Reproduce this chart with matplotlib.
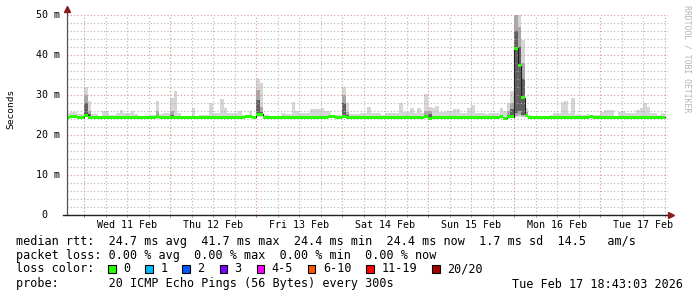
import numpy as np
import matplotlib
matplotlib.use("Agg")
import matplotlib.pyplot as plt
from matplotlib.patches import Rectangle

W, H = 697, 297
MONO = "DejaVu Sans Mono"

# one bin per hour, hour 0 = left edge of the graph (Tue 10 Feb ~19:15)
# first midnight (Wed 11 Feb 00:00) is at hour 4.75
first_midnight = 4.75
day_labels = ["Wed 11 Feb", "Thu 12 Feb", "Fri 13 Feb", "Sat 14 Feb",
              "Sun 15 Feb", "Mon 16 Feb", "Tue 17 Feb"]

# median rtt per hour (ms)
median_rtt = [
    24.4, 24.7, 24.7, 24.4, 24.4, 24.9, 24.4, 24.4, 24.4, 24.4, 24.4, 24.4,
    24.4, 24.4, 24.4, 24.4, 24.4, 24.4, 24.4, 24.4, 24.4, 24.4, 24.4, 24.4,
    24.4, 24.7, 24.4, 24.4, 24.4, 24.4, 24.4, 24.4, 24.4, 24.4, 24.4, 24.4,
    24.4, 24.4, 24.4, 24.4, 24.4, 24.4, 24.4, 24.4, 24.4, 24.4, 24.4, 24.4,
    24.4, 24.4, 24.7, 24.7, 24.4, 25.2, 25.2, 24.4, 24.4, 24.4, 24.4, 24.4,
    24.4, 24.4, 24.4, 24.4, 24.4, 24.4, 24.4, 24.4, 24.4, 24.4, 24.4, 24.4,
    24.4, 24.7, 24.7, 24.4, 24.4, 24.7, 24.4, 24.4, 24.4, 24.4, 24.4, 24.4,
    24.4, 24.4, 24.4, 24.4, 24.4, 24.4, 24.4, 24.4, 24.4, 24.4, 24.4, 24.4,
    24.4, 24.4, 24.4, 24.4, 24.6, 24.2, 24.4, 24.4, 24.4, 24.4, 24.4, 24.4,
    24.4, 24.4, 24.4, 24.4, 24.4, 24.4, 24.4, 24.4, 24.4, 24.4, 24.4, 24.4,
    24.4, 24.6, 24.2, 24.6, 24.6, 41.7, 37.3, 29.3, 24.8, 24.4, 24.4, 24.4,
    24.4, 24.4, 24.4, 24.4, 24.4, 24.4, 24.4, 24.4, 24.4, 24.4, 24.4, 24.4,
    24.4, 24.4, 24.7, 24.4, 24.4, 24.4, 24.4, 24.4, 24.4, 24.4, 24.4, 24.4,
    24.4, 24.4, 24.4, 24.4, 24.4, 24.4, 24.4, 24.4, 24.4, 24.4, 24.4,
]

# slowest of the 20 pings per hour (ms)
max_rtt = [
    25.4, 25.8, 25.8, 25.2, 25.2, 31.9, 28.6, 25.2, 25.2, 24.6, 26.0, 26.0,
    25.0, 25.0, 25.4, 26.2, 25.4, 25.4, 26.0, 25.3, 24.8, 24.8, 24.6, 25.0,
    25.0, 28.6, 25.2, 25.4, 25.4, 29.3, 31.1, 25.6, 24.6, 24.6, 24.6, 26.7,
    24.8, 25.0, 25.0, 25.0, 27.9, 25.4, 25.4, 29.1, 26.7, 25.4, 25.4, 25.4,
    26.1, 25.0, 25.0, 26.0, 24.6, 34.0, 33.1, 25.0, 25.0, 24.6, 24.6, 24.6,
    25.4, 25.2, 25.2, 28.3, 26.0, 25.4, 25.4, 25.4, 26.4, 26.4, 26.4, 26.8,
    26.1, 26.1, 25.0, 25.0, 25.0, 32.0, 28.1, 25.2, 25.2, 25.2, 25.6, 25.6,
    27.1, 25.4, 25.4, 25.4, 25.0, 25.4, 25.4, 25.4, 25.4, 27.9, 25.8, 25.8,
    26.8, 25.4, 26.8, 25.4, 30.2, 26.9, 26.7, 27.3, 25.8, 25.8, 26.0, 26.0,
    26.5, 26.5, 25.4, 25.4, 26.7, 27.5, 25.6, 25.6, 25.4, 25.2, 25.4, 25.4,
    25.4, 26.8, 26.0, 27.9, 31.1, 55.0, 55.0, 43.8, 26.7, 25.0, 24.6, 24.6,
    24.6, 24.6, 24.6, 25.0, 25.4, 25.4, 28.3, 28.5, 25.4, 29.2, 25.0, 25.0,
    25.0, 25.2, 25.0, 25.0, 25.0, 25.8, 26.3, 26.2, 26.2, 24.8, 25.8, 26.0,
    25.4, 25.4, 25.4, 26.2, 26.7, 27.9, 26.9, 25.4, 25.4, 25.0, 25.4,
]

# hours where the pings were really spread out (darker smoke)
spread_bins = [5, 6, 25, 29, 53, 54, 77, 78, 100, 101, 123, 124, 125, 126, 127, 128]
spread_min = [24.4, 24.4, 24.4, 24.4, 24.6, 24.6, 24.4, 24.4, 24.2, 24.0, 24.4, 24.4, 24.5, 24.6, 24.5, 24.5]
spread_p10 = [24.6, 24.4, 24.4, 24.4, 24.9, 24.9, 24.5, 24.4, 24.4, 24.1, 24.5, 24.5, 24.8, 25.0, 24.7, 24.6]
spread_p25 = [24.8, 24.4, 24.5, 24.4, 25.1, 25.1, 24.6, 24.4, 24.5, 24.2, 24.6, 24.6, 25.5, 26.0, 25.0, 24.7]
spread_p75 = [27.9, 25.2, 25.0, 25.0, 28.8, 25.8, 28.0, 25.0, 25.0, 25.2, 25.0, 26.5, 46.0, 42.0, 34.0, 25.2]
spread_p90 = [30.0, 26.0, 26.0, 26.0, 31.3, 27.0, 30.0, 25.8, 26.0, 26.0, 26.0, 28.0, 50.0, 47.0, 38.0, 25.8]

legend_rows = [
    "median rtt:  24.7 ms avg  41.7 ms max  24.4 ms min  24.4 ms now  1.7 ms sd  14.5   am/s",
    "packet loss: 0.00 % avg  0.00 % max  0.00 % min  0.00 % now",
    "loss color:",
    "probe:       20 ICMP Echo Pings (56 Bytes) every 300s",
]
loss_labels = ["0", "1", "2", "3", "4-5", "6-10", "11-19", "20/20"]
loss_colors = ["#26ff00", "#00b8ff", "#0059ff", "#7e00ff",
               "#ff00ff", "#ff5500", "#ff0000", "#a10000"]
stamp = "Tue Feb 17 18:43:03 2026"


def fx(px):
    return px / W


def fy(py):
    return 1 - py / H


med = np.array(median_rtt)
top = np.array(max_rtt)
lo, p10, p25, p75, p90 = (med.copy() for _ in range(5))
lo[spread_bins] = spread_min
p10[spread_bins] = spread_p10
p25[spread_bins] = spread_p25
p75[spread_bins] = spread_p75
p90[spread_bins] = spread_p90

n = len(med)
edges = np.arange(n + 1) - 0.25


def stepped(a):
    return np.append(a, a[-1])


fig = plt.figure(figsize=(W / 100, H / 100), dpi=100)
fig.patch.set_facecolor("white")
ax = fig.add_axes([fx(67), fy(215), 601 / W, 200 / H])
ax.set_xlim(0, 167.7)
ax.set_ylim(0, 50)
ax.axis("off")

# smoke
ax.fill_between(edges, stepped(lo), stepped(top), step="post", color="#d6d6d6", lw=0, zorder=1)
ax.fill_between(edges, stepped(p10), stepped(p90), step="post", color="#a8a8a8", lw=0, zorder=1.1)
ax.fill_between(edges, stepped(p25), stepped(p75), step="post", color="#606060", lw=0, zorder=1.2)

# grid
dotted = (0, (1, 2))
minor_col, major_col = "#b4b4b4", "#dc9090"
for v in range(2, 51, 2):
    major = v % 10 == 0
    ax.axhline(v, color=major_col if major else minor_col, ls=dotted, lw=0.8, zorder=2)
h = first_midnight - 18
while h < 167.7:
    if h > 0:
        major = abs((h - first_midnight) % 24) < 1e-6
        col = major_col if major else minor_col
        ax.axvline(h, color=col, ls=dotted, lw=0.8, zorder=2)
        ax.plot([h, h], [0, -0.6], color=col, lw=0.72, clip_on=False)
    h += 6

# median line with loss colour band
ax.step(edges, stepped(med), where="post", color="#202020", lw=0.8, zorder=3)
ax.fill_between(edges, stepped(med) - 0.33, stepped(med) + 0.33, step="post",
                color=loss_colors[0], lw=0, zorder=4)

# axes with arrows
ax.plot([0, 0], [0, 51], color="#505050", lw=0.9, clip_on=False, zorder=5)
ax.plot(0, 51.4, marker="^", ms=4, color="#8b1a1a", clip_on=False, zorder=6)
ax.plot([-1.0, 168.3], [0, 0], color="#202020", lw=1.0, clip_on=False, zorder=5)
ax.plot(168.6, 0, marker=">", ms=4, color="#8b1a1a", clip_on=False, zorder=6)

# tick labels
for v in range(0, 51, 10):
    lab = " 0" if v == 0 else "%d m" % v
    fig.text(fx(36), fy(215 - v * 4), lab, ha="left", va="center",
             fontsize=7.2, family=MONO)
for d, lab in enumerate(day_labels):
    ax.text(first_midnight + 12 + 24 * d, -2.5, lab, ha="center", va="center",
            fontsize=7.2, family=MONO, clip_on=False)

fig.text(fx(11), fy(109), "Seconds", rotation=90, ha="center", va="center",
         fontsize=6.8, family=MONO)
fig.text(fx(687), fy(5), "RRDTOOL / TOBI OETIKER", rotation=270, ha="center",
         va="top", fontsize=5.9, family=MONO, color="#b4b4b4")

# legend
row_y = [241, 256, 269, 284]
for y, line in zip(row_y, legend_rows):
    fig.text(fx(16), fy(y), line, ha="left", va="center", fontsize=8.5, family=MONO)
fig.text(fx(683), fy(row_y[3]), stamp, ha="right", va="center", fontsize=8.5, family=MONO)

cw = 7.13
sx = 108.3
for lab, col in zip(loss_labels, loss_colors):
    fig.add_artist(Rectangle((fx(sx), fy(273)), 7.5 / W, 8 / H, transform=fig.transFigure,
                             facecolor=col, edgecolor="black", lw=0.8))
    fig.text(fx(sx + 15), fy(row_y[2]), lab, ha="left", va="center", fontsize=8.5, family=MONO)
    sx += (len(lab) + 4.2) * cw

fig.savefig("out.png", dpi=100)
